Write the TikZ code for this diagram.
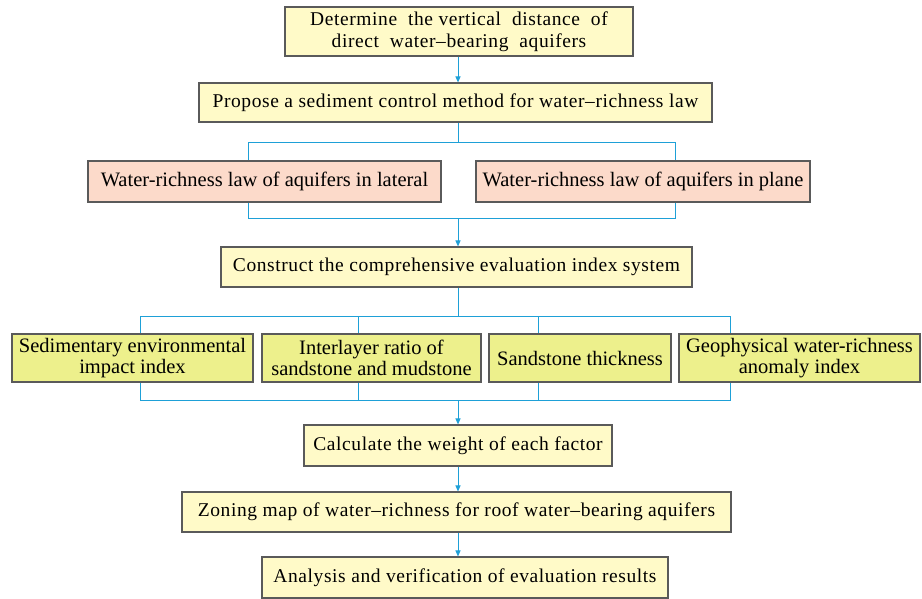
\documentclass[tikz,border=0pt]{standalone}
\usepackage{fontspec}
\setmainfont{Liberation Serif}
\newfontfamily\spacedfont[LetterSpace=3.0]{Liberation Serif}
\usetikzlibrary{arrows.meta}
\definecolor{paleyel}{RGB}{255,250,200}
\definecolor{greenyel}{RGB}{237,240,140}
\definecolor{pinkbox}{RGB}{252,218,202}
\definecolor{flowblue}{RGB}{30,160,215}
\definecolor{boxline}{RGB}{90,90,90}
\tikzset{
  box/.style={draw=boxline, line width=1.1pt, inner sep=0pt, align=center, anchor=center},
  mainbox/.style={box, fill=paleyel, font=\fontsize{19.5}{22}\selectfont\spacedfont},
  lawbox/.style={box, fill=pinkbox, font=\fontsize{20.5}{22}\selectfont},
  factbox/.style={box, fill=greenyel, font=\fontsize{20.5}{21}\selectfont, minimum height=48pt},
  link/.style={draw=flowblue, line width=1pt},
  flow/.style={link, -{Triangle[length=6pt,width=5pt]}}
}
\begin{document}
\begin{tikzpicture}[x=1pt,y=-1pt]
\useasboundingbox (0,0) rectangle (922,599);
% boxes
\node[mainbox, minimum width=348pt, minimum height=49pt] (b1) at (459,31.5) {Determine \ the vertical \ distance \ of\\ direct \ water–bearing \ aquifers};
\node[mainbox, minimum width=513pt, minimum height=39pt] (b2) at (455.5,102.5) {Propose a sediment control method for water–richness law};
\node[lawbox, minimum width=353pt, minimum height=41pt] (lat) at (264.5,181.5) {Water-richness law of aquifers in lateral};
\node[lawbox, minimum width=334pt, minimum height=41pt] (pln) at (643,181.5) {Water-richness law of aquifers in plane};
\node[mainbox, minimum width=471pt, minimum height=40pt] (b4) at (456.5,267) {Construct the comprehensive evaluation index system};
\node[factbox, minimum width=241pt] (fa) at (132.5,358) {Sedimentary environmental\\impact index};
\node[factbox, minimum width=219pt] (fb) at (371.5,358) {Interlayer ratio of\\sandstone and mudstone};
\node[factbox, minimum width=182pt] (fc) at (580,358) {Sandstone thickness};
\node[factbox, minimum width=241pt] (fd) at (799.5,358) {Geophysical water-richness\\anomaly index};
\node[mainbox, minimum width=308pt, minimum height=41pt] (calc) at (458,445.5) {Calculate the weight of each factor};
\node[mainbox, minimum width=549pt, minimum height=40pt] (zone) at (456.5,512) {Zoning map of water–richness for roof water–bearing aquifers};
\node[mainbox, minimum width=406pt, minimum height=41pt] (ana) at (465,577.5) {Analysis and verification of evaluation results};
% junction coordinates
\coordinate (j1) at (458,143);
\coordinate (j1l) at (248,143);
\coordinate (j1r) at (675,143);
\coordinate (j2) at (458,219);
\coordinate (j2l) at (248,219);
\coordinate (j2r) at (675,219);
\coordinate (j3) at (458,316);
\coordinate (j3a) at (140,316);
\coordinate (j3b) at (358,316);
\coordinate (j3c) at (538,316);
\coordinate (j3d) at (730,316);
\coordinate (j4) at (458,400);
\coordinate (j4a) at (140,400);
\coordinate (j4b) at (358,400);
\coordinate (j4c) at (538,400);
\coordinate (j4d) at (730,400);
% connectors
\draw[flow] (b1.south -| j1) -- (b2.north -| j1);
\draw[link] (b2.south -| j1) -- (j1);
\draw[link] (lat.north -| j1l) -- (j1l) -- (j1r) -- (pln.north -| j1r);
\draw[link] (lat.south -| j2l) -- (j2l) -- (j2r) -- (pln.south -| j2r);
\draw[flow] (j2) -- (b4.north -| j2);
\draw[link] (b4.south -| j3) -- (j3);
\draw[link] (fa.north -| j3a) -- (j3a) -- (j3d) -- (fd.north -| j3d);
\draw[link] (j3b) -- (fb.north -| j3b);
\draw[link] (j3c) -- (fc.north -| j3c);
\draw[link] (fa.south -| j4a) -- (j4a) -- (j4d) -- (fd.south -| j4d);
\draw[link] (fb.south -| j4b) -- (j4b);
\draw[link] (fc.south -| j4c) -- (j4c);
\draw[flow] (j4) -- (calc.north -| j4);
\draw[flow] (calc.south -| j4) -- (zone.north -| j4);
\draw[flow] (zone.south -| j4) -- (ana.north -| j4);
\end{tikzpicture}
\end{document}
